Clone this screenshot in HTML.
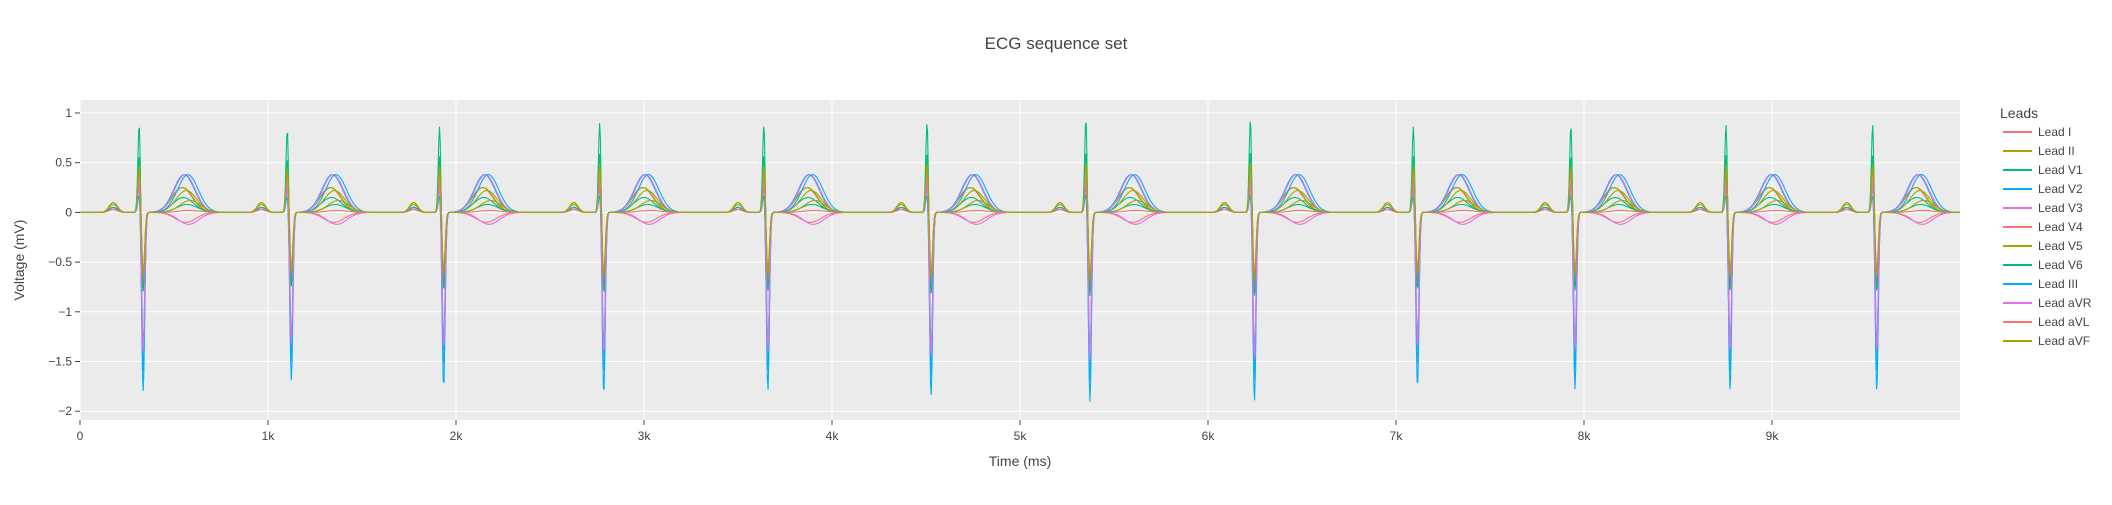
<!DOCTYPE html>
<html><head><meta charset="utf-8"><style>
body{margin:0;background:#fff;font-family:"Liberation Sans",sans-serif;}
svg text{font-family:"Liberation Sans",sans-serif;fill:#444;}
</style></head><body>
<svg id="chart" width="2112" height="500" xmlns="http://www.w3.org/2000/svg">
<rect x="0" y="0" width="2112" height="500" fill="#fff"/>
<text x="1056" y="49" font-size="17" text-anchor="middle">ECG sequence set</text>
<rect x="80" y="100" width="1880" height="320" fill="#ebebeb"/>
<g id="grid"></g>
<g id="series"></g>
<g id="axes"></g>
<text x="1020" y="466" font-size="14" text-anchor="middle">Time (ms)</text>
<text x="24" y="260" font-size="14" text-anchor="middle" transform="rotate(-90 24 260)">Voltage (mV)</text>
<g id="legend"><text x="2000" y="118" font-size="14">Leads</text></g>
</svg>
<script>
const leadNames=["Lead I","Lead II","Lead V1","Lead V2","Lead V3","Lead V4","Lead V5","Lead V6","Lead III","Lead aVR","Lead aVL","Lead aVF"];
const leadColors=["#F8766D","#A3A500","#00BF7D","#00B0F6","#E76BF3"];
const beatTimes=[327,1115,1925,2777,3650,4518,5363,6238,7105,7943,8768,9548];
const beatScale=[1.0,0.94,0.98,1.02,1.0,1.03,1.06,1.06,0.98,0.99,1.0,1.0];
const rAmp=[0.45,0.55,0.92,0.30,0.28,0.50,0.55,0.60,0.20,0.35,0.40,0.50];
const sAmp=[-0.75,-0.70,-1.35,-1.80,-1.45,-0.70,-0.60,-0.80,-1.60,-1.40,-0.60,-0.65];
const tAmp=[0.25,0.25,0.15,0.38,0.38,-0.10,0.22,0.08,0.38,-0.12,0.02,0.12];
const pAmp=[0.05,0.10,0.05,0.05,0.05,0.03,0.10,0.05,0.05,0.03,0.03,0.08];
const xTicks=[0,1000,2000,3000,4000,5000,6000,7000,8000,9000];
const xTickLabels=["0","1k","2k","3k","4k","5k","6k","7k","8k","9k"];
const yTicks=[1,0.5,0,-0.5,-1,-1.5,-2];
const yTickLabels=["1","0.5","0","−0.5","−1","−1.5","−2"];
const X=v=>80+(v/10000)*1880;
const Y=v=>212.4-v*99.4;
const NS="http://www.w3.org/2000/svg";
function mk(tag,attrs,parent){const e=document.createElementNS(NS,tag);for(const k in attrs)e.setAttribute(k,attrs[k]);parent.appendChild(e);return e;}
const grid=document.getElementById('grid'),axes=document.getElementById('axes');
xTicks.forEach((t,i)=>{
 const l=mk('line',{x1:X(t),x2:X(t),y1:100,y2:420,stroke:'#fff','stroke-width':1},grid);
 
 
 mk('line',{x1:X(t),x2:X(t),y1:420,y2:425,stroke:'#444'},axes);
 const tx=mk('text',{x:X(t),y:440,'font-size':12,'text-anchor':'middle'},axes);tx.textContent=xTickLabels[i];
 
 
});
yTicks.forEach((t,i)=>{
 const l=mk('line',{x1:80,x2:1960,y1:Y(t),y2:Y(t),stroke:'#fff','stroke-width':1},grid);
 
 
 mk('line',{x1:75,x2:80,y1:Y(t),y2:Y(t),stroke:'#444'},axes);
 const tx=mk('text',{x:72,y:Y(t)+4,'font-size':12,'text-anchor':'end'},axes);tx.textContent=yTickLabels[i];
 
 
});
const g=(t,c,w)=>Math.exp(-((t-c)*(t-c))/(2*w*w));
const ser=document.getElementById('series'),leg=document.getElementById('legend');
leadNames.forEach((name,li)=>{
 const col=leadColors[li%leadColors.length];
 let d='';
 for(let t=0;t<=10000;t+=4){
  let v=0;
  beatTimes.forEach((b,bi)=>{
   const s=beatScale[bi],dt=t-b;
   if(Math.abs(dt)>450)return;
   v+=pAmp[li]*g(dt,-150,22)+rAmp[li]*s*g(dt,-12,7)+sAmp[li]*s*g(dt,9,8)+tAmp[li]*g(dt,215+li*4,55);
  });
  d+=(t?'L':'M')+X(t).toFixed(1)+' '+Y(v).toFixed(1);
 }
 const p=mk('path',{d:d,fill:'none',stroke:col,'stroke-width':1.1},ser);
 
 
 const y=132+li*19;
 const ll=mk('line',{x1:2003,x2:2032,y1:y,y2:y,stroke:col,'stroke-width':2},leg);
 
 
 const lt=mk('text',{x:2038,y:y+4,'font-size':12},leg);lt.textContent=name;
 
 
});
</script>
</body></html>
